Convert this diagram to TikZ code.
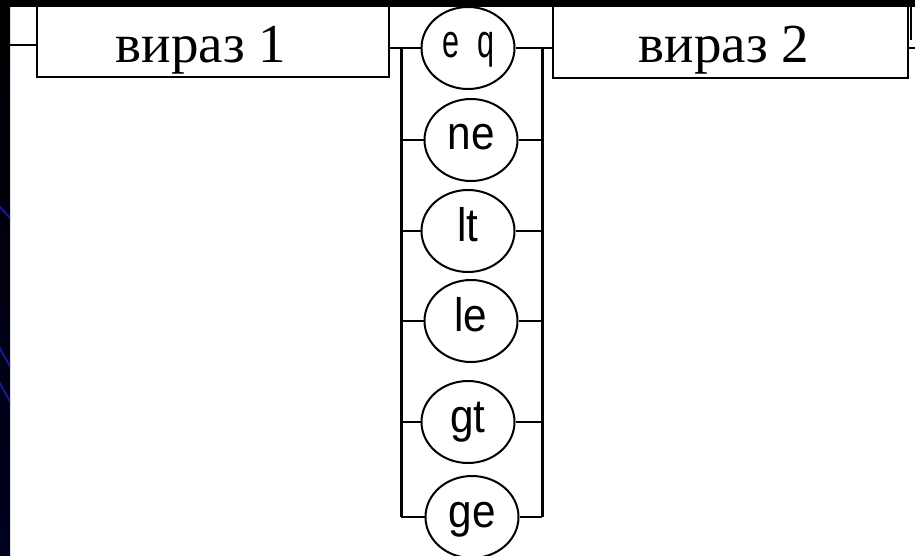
\documentclass[tikz,border=0pt]{standalone}
\usepackage{fontspec}
\setmainfont{Liberation Serif}
\newfontfamily\opfont{Liberation Sans}
\usetikzlibrary{shapes.geometric}
\definecolor{stripnavy}{RGB}{0,0,32}
\definecolor{stripblue}{RGB}{25,25,150}
\begin{document}
\begin{tikzpicture}[x=1pt,y=-1pt,
  wire/.style={line width=2.7pt},
  rail/.style={line width=3pt},
  boxnode/.style={draw, line width=2.6pt, inner sep=0pt},
  boxtext/.style={font=\fontsize{55}{60}\selectfont, inner sep=0pt, anchor=base},
  opnode/.style={draw, ellipse, line width=2pt, minimum width=93pt,
    minimum height=82pt, inner sep=0pt, text height=26pt, text depth=6pt,
    font=\opfont\fontsize{47}{50}\selectfont}]
\useasboundingbox (0,0) rectangle (915,556);
\fill[white] (0,0) rectangle (915,556);

% operand boxes (their top edges run under the frame)
\node[boxnode, minimum width=352pt, minimum height=80pt] (b1) at (213,37) {};
\node[boxnode, minimum width=355pt, minimum height=81pt] (b2) at (730.5,37.5) {};
\node[boxtext] (t1) at (201,63) {вираз 1};
\node[boxtext] (t2) at (724,63) {вираз 2};

% comparison operators
\node[opnode] (eq) at (468,48) {\scalebox{0.65}[1]{e}\hspace{18pt}\scalebox{0.65}[1]{q}};
\node[opnode] (ne) at (471,140) {\scalebox{0.9}[1]{ne}};
\node[opnode] (lt) at (468,231) {\scalebox{0.9}[1]{lt}};
\node[opnode] (le) at (471,321) {\scalebox{0.9}[1]{le}};
\node[opnode] (gt) at (468,422) {\scalebox{0.9}[1]{gt}};
\node[opnode] (ge) at (472,517) {\scalebox{0.9}[1]{ge}};

% the two rails of the alternative
\coordinate (lr) at (401,0);
\coordinate (rr) at (542,0);
\draw[rail] (lr |- eq.west) -- (lr |- ge.west);
\draw[rail] (rr |- eq.east) -- (rr |- ge.east);
\foreach \op in {ne,lt,le,gt,ge}{
  \draw[wire] (lr |- \op.west) -- (\op.west);
  \draw[wire] (\op.east) -- (rr |- \op.east);
}
\draw[wire] (b1.east |- eq.west) -- (eq.west);
\draw[wire] (eq.east) -- (b2.west |- eq.east);

% entry and exit
\coordinate (in) at (10,45);
\coordinate (out) at (915,48);
\coordinate (outtop) at (911,5);
\coordinate (outbot) at (911,40);
\draw[wire] (in) -- (in -| b1.west);
\draw[wire] (b2.east |- out) -- (out);
\draw[line width=1.6pt] (outtop) -- (outbot);

% frame
\fill[black] (0,0) rectangle (915,7);
\shade[top color=black, bottom color=stripnavy] (0,0) rectangle (10,556);
\begin{scope}[stripblue, line width=2pt]
  \clip (0,0) rectangle (10,556);
  \draw (-1,206) -- (11,219);
  \draw (-1,347) -- (11,368);
  \draw (-1,382) -- (11,403);
\end{scope}
\end{tikzpicture}
\end{document}
